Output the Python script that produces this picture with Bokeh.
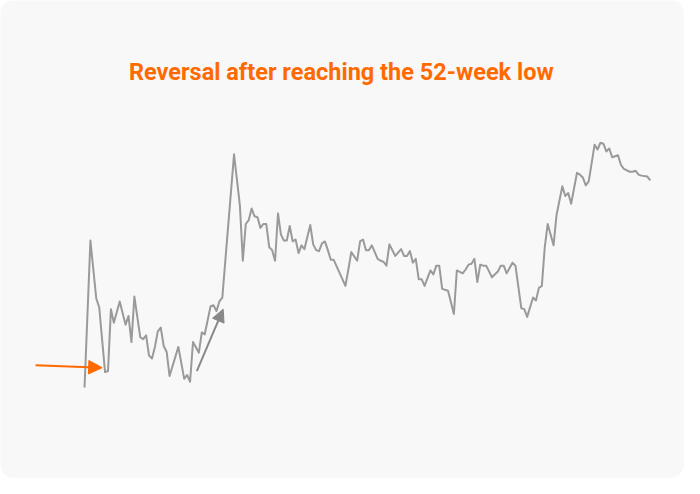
from bokeh.plotting import figure
from bokeh.models import Range1d, Label, Arrow, NormalHead, ColumnDataSource
from bokeh.embed import file_html
from bokeh.resources import INLINE

# trading-day index and closing price
days = [0, 2, 4, 5, 7, 8, 9, 10, 12, 14, 15, 16, 17, 19, 20, 21, 22, 23, 24, 25,
        26, 27, 28, 29, 32, 34, 35, 36, 37, 39, 40, 41, 43, 44, 45, 46, 47, 51, 53, 54,
        55, 56, 57, 58, 59, 60, 61, 62, 63, 64, 65, 66, 67, 68, 69, 70, 71, 72, 73, 74,
        75, 77, 78, 79, 80, 81, 82, 83, 84, 85, 89, 90, 91, 93, 94, 95, 96, 97, 98, 100,
        101, 102, 103, 104, 106, 108, 109, 110, 111, 112, 113, 114, 115, 116, 118, 119, 120, 121, 122, 124,
        126, 127, 129, 130, 131, 132, 133, 134, 135, 136, 137, 139, 140, 141, 142, 143, 144, 146, 147, 149,
        150, 151, 153, 154, 155, 156, 157, 158, 160, 161, 163, 164, 165, 166, 168, 169, 170, 171, 172, 174,
        175, 176, 177, 178, 179, 180, 182, 183, 184, 186, 187, 188, 189, 190, 192, 193]
prices = [10.0, 25.2, 19.2, 18.3, 11.6, 11.7, 18.1, 16.7, 18.9, 16.5, 17.4, 14.7, 19.4, 15.2, 15.0, 15.4, 13.3, 13.0, 14.2, 15.8,
          16.2, 14.3, 13.7, 11.2, 14.2, 10.9, 11.3, 10.6, 14.7, 13.6, 15.7, 15.5, 18.4, 18.5, 17.9, 18.9, 19.3, 34.1, 28.8, 23.1,
          26.9, 27.3, 28.5, 27.7, 27.6, 26.5, 26.9, 26.9, 24.5, 24.2, 23.1, 28.0, 25.8, 25.2, 25.2, 26.7, 25.1, 25.3, 23.9, 24.7,
          24.3, 26.8, 24.8, 24.2, 24.1, 24.9, 25.1, 24.2, 23.2, 23.2, 20.5, 22.2, 24.0, 23.1, 25.1, 25.3, 24.2, 24.2, 24.7, 23.3,
          23.1, 23.0, 22.6, 24.8, 23.6, 24.3, 23.6, 23.6, 24.1, 22.9, 23.3, 21.2, 21.2, 20.5, 22.1, 21.7, 22.6, 22.6, 20.2, 20.0,
          17.6, 22.1, 21.8, 22.2, 22.7, 22.8, 23.3, 20.9, 22.7, 22.6, 22.6, 21.4, 21.7, 22.0, 22.6, 22.6, 21.8, 22.9, 22.6, 18.2,
          18.1, 17.3, 19.3, 19.0, 20.3, 20.5, 24.5, 26.9, 24.7, 27.8, 30.8, 29.8, 30.1, 29.0, 32.2, 32.0, 31.7, 30.9, 31.3, 35.1,
          34.6, 35.3, 35.2, 34.4, 34.7, 33.8, 34.0, 33.0, 32.6, 32.3, 32.3, 32.4, 32.0, 31.9, 31.8, 31.4]

title_text = "Reversal after reaching the 52-week low"

# annotation anchors (day, price)
low_arrow = (-16.7, 12.3, 6.0, 12.05)
up_arrow = (38.3, 11.7, 47.3, 18.1)

BG = "#f8f8f8"
p = figure(width=684, height=478, output_backend="svg", toolbar_location=None,
           x_range=Range1d(-28.67, 204.67), y_range=Range1d(0.6, 50.0),
           min_border=0, background_fill_color=BG, border_fill_color=BG,
           outline_line_color=None)
p.axis.visible = False
p.grid.visible = False
p.styles = {"border-radius": "14px", "overflow": "hidden"}

src = ColumnDataSource(dict(day=days, price=prices))
p.line("day", "price", source=src, line_color="#9a9a9a", line_width=2,
       line_join="round")

p.add_layout(Arrow(x_start=low_arrow[0], y_start=low_arrow[1],
                   x_end=low_arrow[2], y_end=low_arrow[3],
                   line_color="#ff6a00", line_width=2,
                   end=NormalHead(size=13.5, fill_color="#ff6a00", line_color="#ff6a00", line_width=1)))
p.add_layout(Arrow(x_start=up_arrow[0], y_start=up_arrow[1],
                   x_end=up_arrow[2], y_end=up_arrow[3],
                   line_color="#888888", line_width=2,
                   end=NormalHead(size=12.5, fill_color="#888888", line_color="#888888", line_width=1)))

p.add_layout(Label(x=87.6, y=42.57, text=title_text, text_align="center",
                   text_baseline="alphabetic", text_font="Roboto",
                   text_font_style="bold", text_font_size="23.5px",
                   text_color="#ff6a00"))

open("out.html", "w").write(file_html(p, INLINE))
